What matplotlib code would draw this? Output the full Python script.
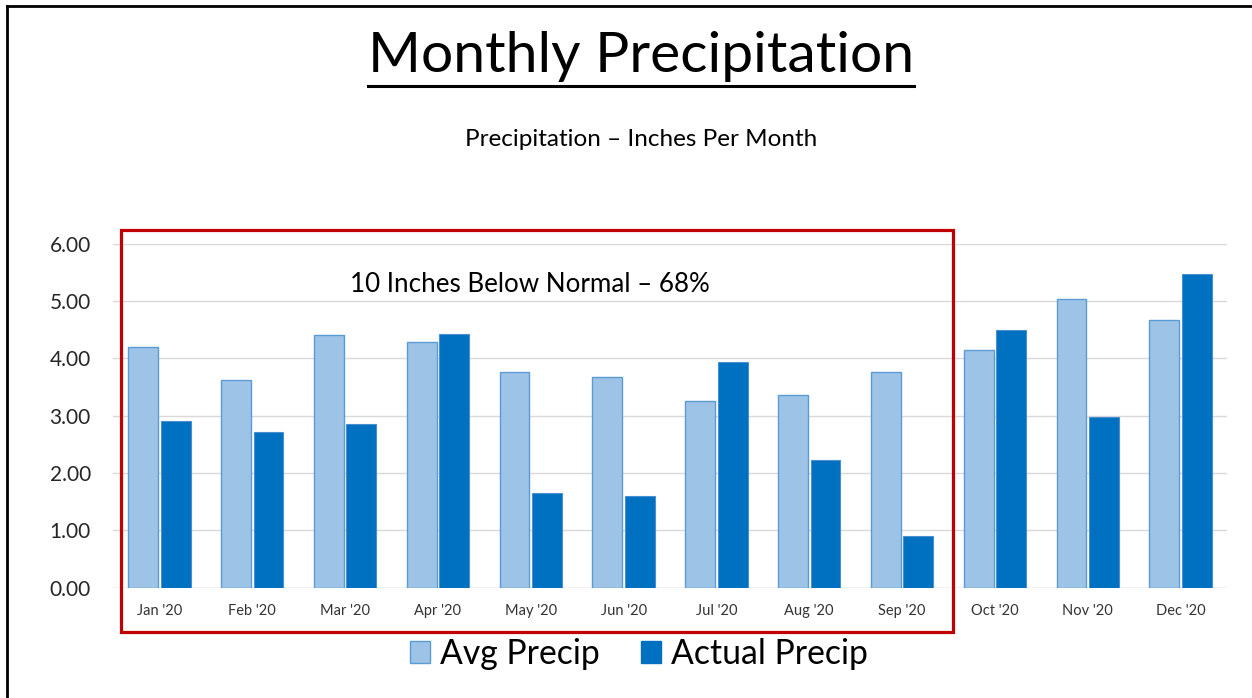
import matplotlib
matplotlib.use("Agg")
import matplotlib.pyplot as plt
from matplotlib.patches import Rectangle, Patch
from matplotlib.lines import Line2D
import numpy as np

plt.rcParams['font.family'] = ['Lato', 'DejaVu Sans']

# data
months = ["Jan '20", "Feb '20", "Mar '20", "Apr '20", "May '20", "Jun '20",
          "Jul '20", "Aug '20", "Sep '20", "Oct '20", "Nov '20", "Dec '20"]
avg_precip = [4.20, 3.63, 4.41, 4.29, 3.76, 3.68, 3.26, 3.36, 3.76, 4.15, 5.04, 4.67]
actual_precip = [2.91, 2.72, 2.86, 4.43, 1.66, 1.60, 3.94, 2.23, 0.91, 4.49, 2.98, 5.47]
y_ticks = [0, 1, 2, 3, 4, 5, 6]

W, H = 1252, 698
fig = plt.figure(figsize=(W / 100, H / 100), dpi=100)
ax = fig.add_axes([113 / W, 1 - 587.7 / H, (1227 - 113) / W, (587.7 - 243.7) / H])

x = np.arange(len(months))
bw = 0.32
ax.bar(x - 0.175, avg_precip, bw, color='#9DC3E6', edgecolor='#5B9BD5', linewidth=1, zorder=3)
ax.bar(x + 0.175, actual_precip, bw, color='#0070C0', edgecolor='#4A90D0', linewidth=0.8, zorder=3)

ax.set_xlim(-0.5, len(months) - 0.5)
ax.set_ylim(0, 6)
ax.set_yticks(y_ticks)
ax.set_yticklabels([f"{v:.2f}" for v in y_ticks], fontsize=15, color='#262626')
ax.set_xticks(x)
ax.set_xticklabels(months, fontsize=10.5, color='#333333')
ax.tick_params(axis='both', length=0)
ax.tick_params(axis='x', pad=12)
ax.tick_params(axis='y', pad=16)
ax.grid(axis='y', color='#D9D9D9', linewidth=1, zorder=0)
for s in ax.spines.values():
    s.set_visible(False)
ax.axhline(0, color='#D9D9D9', linewidth=1, zorder=2)

# titles
title = fig.text(641 / W, 1 - 57 / H, "Monthly Precipitation", ha='center', va='center',
                 fontsize=41, color='black')
fig.text(641 / W, 1 - 139 / H, "Precipitation \u2013 Inches Per Month", ha='center', va='center',
         fontsize=17.5, color='black')

# annotation box
fig.text(530 / W, 1 - 284 / H, "10 Inches Below Normal \u2013 68%", ha='center', va='center',
         fontsize=18.7, color='black')
fig.patches.append(Rectangle((121 / W, 1 - 632 / H), (953 - 121) / W, (632 - 230) / H,
                             transform=fig.transFigure, fill=False, edgecolor='#C00000',
                             linewidth=2.3, zorder=5))

# outer frame (left and top)
fig.lines.append(Line2D([7 / W, 7 / W], [0, 1 - 6 / H], transform=fig.transFigure,
                        color='black', linewidth=2))
fig.lines.append(Line2D([7 / W, 1], [1 - 6 / H, 1 - 6 / H], transform=fig.transFigure,
                        color='black', linewidth=2))

# legend
handles = [Patch(facecolor='#9DC3E6', edgecolor='#5B9BD5', label='Avg Precip'),
           Patch(facecolor='#0070C0', edgecolor='#0070C0', label='Actual Precip')]
fig.legend(handles=handles, loc='center', bbox_to_anchor=(639 / W, 1 - 654 / H), ncol=2,
           frameon=False, fontsize=24.3, handlelength=0.6, handleheight=0.6,
           handletextpad=0.3, columnspacing=1.2, borderpad=0)

# underline the title
fig.canvas.draw()
bb = title.get_window_extent()
fig.lines.append(Line2D([bb.x0 / W, bb.x1 / W], [1 - 86 / H, 1 - 86 / H],
                        transform=fig.transFigure, color='black', linewidth=2.2))

fig.savefig("out.png", dpi=100, facecolor='white')
